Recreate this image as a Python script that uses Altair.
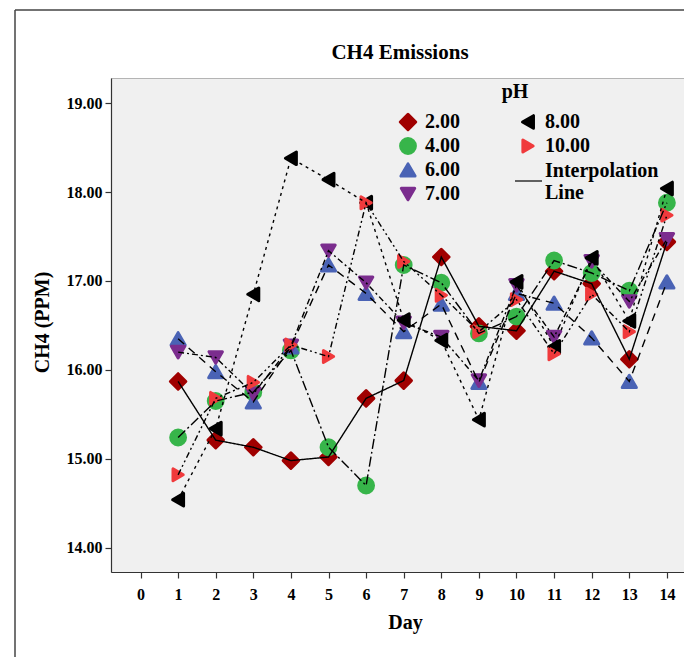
import altair as alt
import pandas as pd

# ---------------- data ----------------
days = list(range(1, 15))
ph_labels = ["2.00", "4.00", "6.00", "7.00", "8.00", "10.00"]

ph2 = [15.87, 15.21, 15.13, 14.98, 15.02, 15.68, 15.88, 17.27, 16.49, 16.44, 17.11, 16.97, 16.12, 17.44]
ph4 = [15.24, 15.65, 15.75, 16.22, 15.13, 14.70, 17.18, 16.98, 16.41, 16.60, 17.23, 17.09, 16.89, 17.88]
ph6 = [16.35, 15.98, 15.64, 16.26, 17.18, 16.86, 16.43, 16.74, 15.86, 16.86, 16.75, 16.36, 15.87, 16.99]
ph7 = [16.20, 16.14, 15.73, 16.27, 17.34, 16.98, 16.53, 16.37, 15.88, 16.95, 16.37, 17.22, 16.77, 17.47]
ph8 = [14.54, 15.34, 16.85, 18.38, 18.14, 17.88, 16.56, 16.33, 15.44, 16.99, 16.26, 17.26, 16.55, 18.04]
ph10 = [14.82, 15.68, 15.86, 16.28, 16.15, 17.88, 17.22, 16.84, 16.43, 16.79, 16.18, 16.85, 16.43, 17.74]
series = [ph2, ph4, ph6, ph7, ph8, ph10]

x_ticks = list(range(0, 15))
y_ticks = [14, 15, 16, 17, 18, 19]

# legend layout (column, row) per category
legend_col = [0, 0, 0, 0, 1, 1]
legend_row = [0, 1, 2, 3, 0, 1]

# ---------------- styles ----------------
FONT = "Liberation Serif"
shapes = ["diamond", "circle", "triangle-up", "triangle-down", "triangle-left", "triangle-right"]
colors = ["#a00000", "#37b54a", "#4a63b5", "#7b2d8e", "#000000", "#f03a3c"]
sizes = [240, 140, 165, 165, 165, 165]
dashes = [[1, 0], [10, 3, 2, 3], [8, 6], [6, 3, 2, 3], [3, 4], [6, 3, 2, 3, 2, 3]]

W, H = 573, 494

rows = []
for lab, vals in zip(ph_labels, series):
    for d, v in zip(days, vals):
        rows.append({"day": d, "ch4": v, "pH": lab})
df = pd.DataFrame(rows)

shape_scale = alt.Scale(domain=ph_labels, range=shapes)
color_scale = alt.Scale(domain=ph_labels, range=colors)
size_scale = alt.Scale(domain=ph_labels, range=sizes)
dash_scale = alt.Scale(domain=ph_labels, range=dashes)

xs = alt.Scale(domain=[-0.785, 14.455], nice=False, zero=False)
ys = alt.Scale(domain=[13.727, 19.283], nice=False, zero=False)

def sym_enc():
    return dict(
        shape=alt.Shape("pH:N", scale=shape_scale, legend=None),
        color=alt.Color("pH:N", scale=color_scale, legend=None),
        stroke=alt.Stroke("pH:N", scale=color_scale, legend=None),
        size=alt.Size("pH:N", scale=size_scale, legend=None),
    )

MARK = dict(filled=True, opacity=1, strokeWidth=3, strokeJoin="round")

points = alt.Chart(df).mark_point(**MARK).encode(
    x=alt.X("day:Q", scale=xs,
            axis=alt.Axis(values=x_ticks, format="d", title="Day", tickSize=6, labelPadding=8,
                          titleX=294, titleY=50, titleBaseline="middle", titleAlign="center")),
    y=alt.Y("ch4:Q", scale=ys,
            axis=alt.Axis(values=y_ticks, format=".2f", title="CH4 (PPM)", tickSize=6, labelPadding=3,
                          titleX=-69, titleY=244, titleAngle=270, titleBaseline="middle",
                          titleAlign="center")),
    **sym_enc(),
)

lines = alt.Chart(df).mark_line(color="black", strokeWidth=1.4).encode(
    x=alt.X("day:Q", scale=xs),
    y=alt.Y("ch4:Q", scale=ys),
    detail="pH:N",
    order="day:Q",
    strokeDash=alt.StrokeDash("pH:N", scale=dash_scale, legend=None),
)

layers = [points, lines]

# ---------------- manual legend (one entry per category) ----------------
for lab, c, r in zip(ph_labels, legend_col, legend_row):
    one = pd.DataFrame({"pH": [lab]})
    layers.append(
        alt.Chart(one).mark_point(**MARK).encode(
            x=alt.value(297 + 120 * c), y=alt.value(44 + 24 * r), **sym_enc()))
    layers.append(
        alt.Chart(one).mark_text(align="left", baseline="middle", font=FONT, fontWeight="bold",
                                 fontSize=20, color="black").encode(
            x=alt.value(314 + 120 * c), y=alt.value(44 + 24 * r), text="pH:N"))

def label(txt, x, y, size=20, align="center", **kw):
    return alt.Chart().mark_text(align=align, baseline="middle", font=FONT, fontWeight="bold",
                                 fontSize=size, color="black", **kw).encode(
        x=alt.value(x), y=alt.value(y), text=alt.value(txt))

layers.append(label("pH", 404, 14))
layers.append(alt.Chart().mark_rule(color="black", strokeWidth=1.2).encode(
    x=alt.value(404), x2=alt.value(431), y=alt.value(103)))
layers.append(label(["Interpolation", "Line"], 434, 93, align="left", lineHeight=22))
layers.append(label("CH4 Emissions", 289, -25, size=21))

# outer frame of the figure
layers.append(alt.Chart().mark_rule(color="#444", strokeWidth=1.5).encode(
    x=alt.value(-96), y=alt.value(-68), y2=alt.value(700)))
layers.append(alt.Chart().mark_rule(color="#444", strokeWidth=1.5).encode(
    x=alt.value(-96), x2=alt.value(700), y=alt.value(-68)))

chart = alt.layer(*layers).properties(
    width=W, height=H,
    autosize=alt.AutoSizeParams(type="none"),
    padding={"left": 103, "top": 70, "right": 0, "bottom": 85},
).configure_view(
    fill="#f0f0f0", stroke="#b4b4b4", strokeWidth=1
).configure_axis(
    grid=False, labelFont=FONT, labelFontWeight="bold", labelFontSize=16, labelColor="black",
    titleFont=FONT, titleFontWeight="bold", titleFontSize=20, titleColor="black",
    domainColor="#333", tickColor="#333", domainWidth=1.2, tickWidth=1.2,
)

chart.save("out.html", embed_options={"renderer": "svg", "actions": False})
